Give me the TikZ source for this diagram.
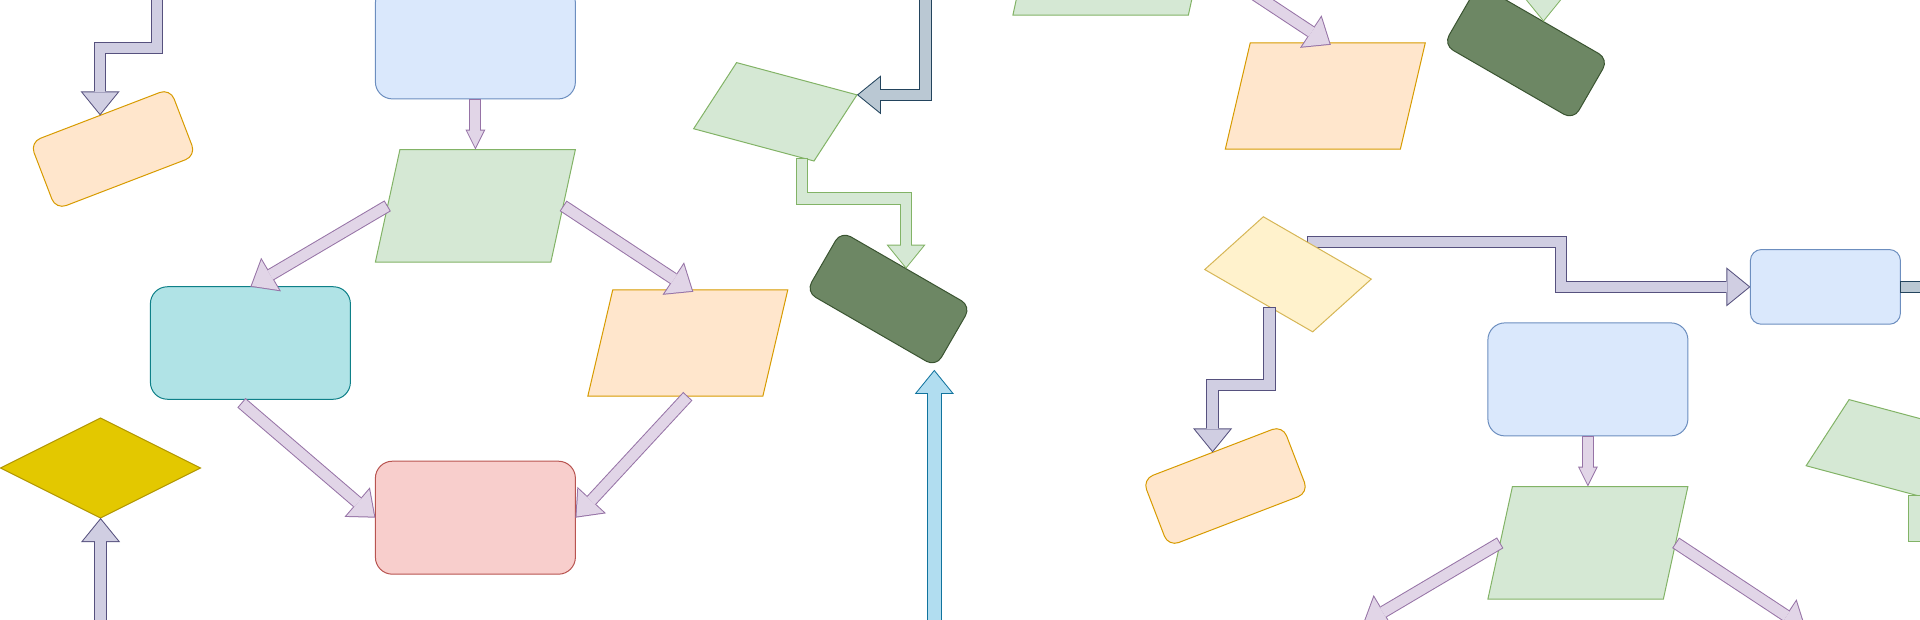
\documentclass[tikz,border=0pt]{standalone}
\usetikzlibrary{shapes.geometric,arrows.meta,calc,backgrounds}
\definecolor{bluefill}{HTML}{DAE8FC}\definecolor{bluedraw}{HTML}{6C8EBF}
\definecolor{greenfill}{HTML}{D5E8D4}\definecolor{greendraw}{HTML}{82B366}
\definecolor{orangefill}{HTML}{FFE6CC}\definecolor{orangedraw}{HTML}{D79B00}
\definecolor{redfill}{HTML}{F8CECC}\definecolor{reddraw}{HTML}{B85450}
\definecolor{tealfill}{HTML}{B0E3E6}\definecolor{tealdraw}{HTML}{0E8088}
\definecolor{yellowfill}{HTML}{FFF2CC}\definecolor{yellowdraw}{HTML}{D6B656}
\definecolor{goldfill}{HTML}{E3C800}\definecolor{golddraw}{HTML}{B09500}
\definecolor{darkfill}{HTML}{6D8764}\definecolor{darkdraw}{HTML}{3A5431}
\definecolor{lilacfill}{HTML}{E1D5E7}\definecolor{lilacdraw}{HTML}{9673A6}
\definecolor{violetfill}{HTML}{D0CEE2}\definecolor{violetdraw}{HTML}{56517E}
\definecolor{slatefill}{HTML}{BAC8D3}\definecolor{slatedraw}{HTML}{23445D}
\definecolor{skyfill}{HTML}{B1DDF0}\definecolor{skydraw}{HTML}{10739E}
\begin{document}
\begin{tikzpicture}[x=1pt, y=-1pt, line join=miter,
	every node/.style={inner sep=0pt, outer sep=0pt, line width=1pt},
	rbox/.style 2 args={rectangle, rounded corners=17pt, fill=#1, draw=#2, minimum width=200pt, minimum height=113pt},
	sbox/.style 2 args={rectangle, rounded corners=11pt, fill=#1, draw=#2, minimum width=150pt, minimum height=72pt},
	para/.style 2 args={trapezium, trapezium stretches body, trapezium left angle=77.7, trapezium right angle=102.3, fill=#1, draw=#2, minimum width=200pt, inner ysep=56.25pt},
	opara/.style={para={orangefill}{orangedraw}, trapezium left angle=76.8, trapezium right angle=103.2, inner ysep=53.2pt},
	spara/.style 2 args={trapezium, trapezium stretches body, trapezium left angle=72, trapezium right angle=108, fill=#1, draw=#2, minimum width=149pt, inner ysep=37.5pt},
	flow/.style 2 args={draw=#2, line width=12.5pt, -{Triangle[width=39pt 0 0, length=24pt 0 0, line width=0pt 0 0]},
		postaction={draw=#1, line width=10.5pt, shorten <=1pt, shorten >=1.6pt, -{Triangle[width=34.8pt 0 0, length=21.4pt 0 0, line width=0pt 0 0]}}},
	flowsmall/.style 2 args={draw=#2, line width=12pt, -{Triangle[width=20pt 0 0, length=20pt 0 0, line width=0pt 0 0]},
		postaction={draw=#1, line width=10pt, shorten <=1pt, shorten >=2.2pt, -{Triangle[width=16.8pt 0 0, length=16.8pt 0 0, line width=0pt 0 0]}}},
	flowwide/.style 2 args={draw=#2, line width=15pt, -{Triangle[width=39pt 0 0, length=24pt 0 0, line width=0pt 0 0]},
		postaction={draw=#1, line width=13pt, shorten <=1pt, shorten >=1.6pt, -{Triangle[width=34.8pt 0 0, length=21.4pt 0 0, line width=0pt 0 0]}}}]
\useasboundingbox (0,0) rectangle (1920,620);
\clip (0,0) rectangle (1920,620);
% left group
\node[rbox={bluefill}{bluedraw}] (blueA) at (475.4,42.4) {};
\node[para={greenfill}{greendraw}] (greenA) at (475.4,205.8) {};
\node[rbox={tealfill}{tealdraw}, minimum height=112.5pt] (tealA) at (250.4,343) {};
\node[opara] (orangeA) at (687.8,343) {};
\node[rbox={redfill}{reddraw}] (pinkA) at (475.4,517.7) {};
\node[diamond, fill=goldfill, draw=golddraw, minimum width=200pt, minimum height=100pt] (goldA) at (100.6,468) {};
\node[spara={greenfill}{greendraw}, rotate=-15] (slantA) at (775.3,111.8) {};
\node[sbox={darkfill}{darkdraw}, minimum height=70pt, rotate=-30] (darkA) at (888.5,299) {};
\node[sbox={orangefill}{orangedraw}, rotate=21] (tagA) at (113,149) {};
% right group
\node[rbox={bluefill}{bluedraw}] (blueB) at (1587.9,379.4) {};
\node[para={greenfill}{greendraw}] (greenB) at (1587.9,542.8) {};
\node[spara={greenfill}{greendraw}, rotate=-15] (slantB) at (1887.8,448.8) {};
\node[sbox={orangefill}{orangedraw}, rotate=21] (tagB) at (1225.5,486) {};
\node[spara={yellowfill}{yellowdraw}, rotate=-30] (cardB) at (1288,274.3) {};
\node[sbox={bluefill}{bluedraw}, minimum height=74.7pt] (blueR) at (1825.4,286.9) {};
% top group
\node[para={greenfill}{greendraw}] (greenC) at (1112.9,-41.2) {};
\node[opara] (orangeC) at (1325.3,96) {};
\node[sbox={darkfill}{darkdraw}, minimum height=70pt, rotate=-30] (darkC) at (1526,52) {};
% loose ends outside the frame
\coordinate (inTag) at (157.2,-20);
\coordinate (inSlate) at (925.7,-20);
\coordinate (inGold) at (100.6,640);
\coordinate (inSky) at (934.3,640);
\coordinate (outSlate) at (2040,286.9);
\coordinate (tealBtop) at (1362.9,624);
\coordinate (orangeBtop) at (1805.8,628.7);
\coordinate (darkBtop) at (2018.5,605.7);
\coordinate (slantCfoot) at (1439.5,-89);
\coordinate (bendR) at (1561.2,265);
% connectors
\draw[flowsmall={lilacfill}{lilacdraw}] (blueA.south) -- (greenA.north);
\draw[flow={lilacfill}{lilacdraw}] (greenA.west) -- (tealA.north);
\draw[flow={lilacfill}{lilacdraw}] (greenA.east) -- ($(orangeA.north)+(5.5,2)$);
\draw[flow={lilacfill}{lilacdraw}] ($(tealA.south)+(-9,3.5)$) -- (pinkA.west);
\draw[flow={lilacfill}{lilacdraw}] (orangeA.south) -- (pinkA.east);
\draw[flow={violetfill}{violetdraw}] (inGold) -- (goldA.south);
\draw[flow={violetfill}{violetdraw}] (inTag) -- ++(0,67.85) -| (tagA.north);
\draw[flow={slatefill}{slatedraw}] (inSlate) |- (slantA.top right corner);
\draw[flow={greenfill}{greendraw}] ($(slantA.bottom left corner)!0.9!(slantA.bottom right corner)$) -- ++(0,40.7) -| (darkA.north);
\draw[flowwide={skyfill}{skydraw}] (inSky) -- ($(inSky |- darkA.south east)+(0,3)$);
\draw[flowsmall={lilacfill}{lilacdraw}] (blueB.south) -- (greenB.north);
\draw[flow={lilacfill}{lilacdraw}] (greenB.west) -- (tealBtop);
\draw[flow={lilacfill}{lilacdraw}] (greenB.east) -- (orangeBtop);
\draw[flow={violetfill}{violetdraw}] (cardB.south) -- ++(0,78) -| (tagB.north);
\begin{scope}[on background layer]
\draw[flow={violetfill}{violetdraw}] (cardB.north) -| (bendR) |- (blueR.west);
\end{scope}
\draw[flow={slatefill}{slatedraw}] (blueR.east) -- (outSlate);
\draw[flow={greenfill}{greendraw}] ($(slantB.bottom left corner)!0.9!(slantB.bottom right corner)$) -- ++(0,40.7) -| (darkBtop);
\draw[flow={lilacfill}{lilacdraw}] (greenC.east) -- ($(orangeC.north)+(5.5,2)$);
\draw[flow={greenfill}{greendraw}] (slantCfoot) -- ++(0,40.7) -| (darkC.north);
\end{tikzpicture}
\end{document}
